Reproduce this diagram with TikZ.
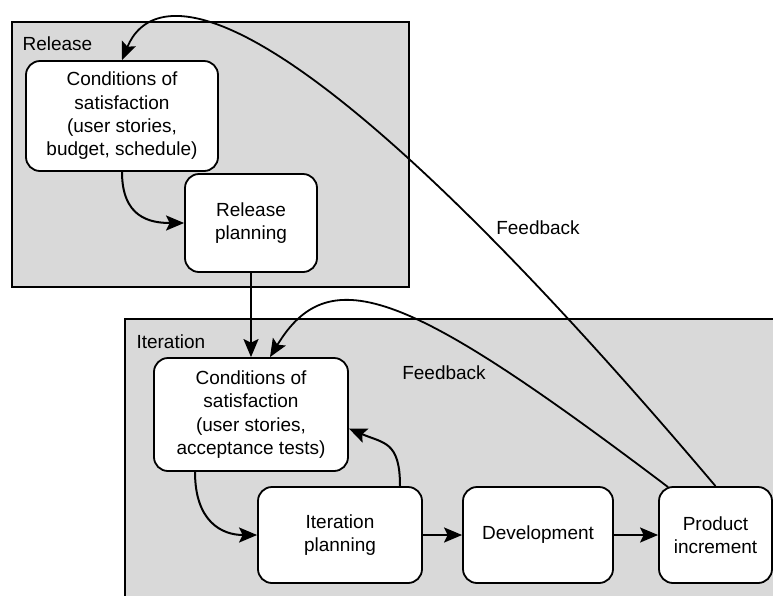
\documentclass[tikz,border=0pt]{standalone}
\usepackage{fontspec}
\setmainfont{Liberation Sans}
\usetikzlibrary{arrows.meta,calc}
\definecolor{panel}{HTML}{D9D9D9}
\begin{document}
\begin{tikzpicture}[x=1pt,y=-1pt,
  every node/.style={font=\fontsize{19}{23.3}\selectfont},
  panelbox/.style={draw=black,line width=1.8pt,fill=panel},
  stepbox/.style={draw=black,line width=1.8pt,fill=white,rounded corners=14pt,
    align=center,inner sep=0pt},
  flow/.style={line width=2pt,-{Stealth[length=18pt,width=15pt,inset=3.5pt]}},
  fb/.style={line width=1.8pt,-{Stealth[length=18pt,width=15pt,inset=3.5pt]}}]
  \useasboundingbox (0,0) rectangle (773,595);
  \begin{scope}
    \clip (0,0) rectangle (773,595);
    % the two planning levels
    \draw[panelbox] (12,22) rectangle (409,287);
    \draw[panelbox] (125,319) rectangle (800,630);
    \node[anchor=west] (rel) at (19,44) {Release};
    \node[anchor=west] (itl) at (133,342) {Iteration};

    % release level
    \node[stepbox,minimum width=192pt,minimum height=110pt] (c1) at (122,116)
      {Conditions of\\satisfaction\\(user stories,\\budget, schedule)};
    \node[stepbox,minimum width=132pt,minimum height=98pt] (rp) at (251,223)
      {Release\\planning};

    % iteration level
    \node[stepbox,minimum width=194pt,minimum height=113pt] (c2) at (251,414.5)
      {Conditions of\\satisfaction\\(user stories,\\acceptance tests)};
    \node[stepbox,minimum width=164pt,minimum height=96pt] (it) at (340,535)
      {Iteration\\planning};
    \node[stepbox,minimum width=150pt,minimum height=96pt] (dev) at (538,535)
      {Development};
    \node[stepbox,minimum width=113pt,minimum height=96pt] (pi) at (715.5,535)
      {Product\\increment};

    % feedback labels
    \node (fb1) at (538,228) {Feedback};
    \node (fb2) at (444,373) {Feedback};

    % flow within the levels
    \draw[flow] (c1.south) .. controls +(0,45) and +(-35,0) .. (rp.west);
    \draw[flow] (rp.south) -- (c2.north);
    \draw[flow] ($(c2.south)+(-56,0)$) .. controls +(0,50) and +(-35,0) .. (it.west);
    \draw[flow] ($(it.north)+(60,0)$) .. controls +(0,-45) and +(35,15) .. ($(c2.east)+(0,14)$);
    \draw[flow] (it.east) -- (dev.west);
    \draw[flow] (dev.east) -- (pi.west);

    % feedback loops
    \draw[fb] (pi.north) .. controls (260,-52) and (150,-8) .. (c1.north);
    \draw[fb] ($(pi.north west)+(10,1)$) .. controls (410,292) and (330,258) .. ($(c2.north)+(19,0)$);
  \end{scope}
\end{tikzpicture}
\end{document}
